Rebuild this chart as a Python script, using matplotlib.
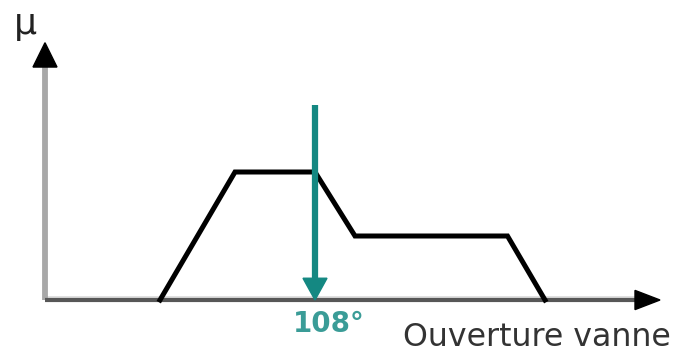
import matplotlib.pyplot as plt
from matplotlib.patches import Polygon

# membership function of the valve opening (degrees, mu)
opening = [46, 76, 108, 124, 185, 200]
mu = [0, 1, 1, 0.5, 0.5, 0]
crisp_value = 108
crisp_label = "108°"
x_label = "Ouverture vanne"
y_label = "µ"

plt.rcParams['font.family'] = ['DejaVu Sans']

fig = plt.figure(figsize=(6.88, 3.54), dpi=100)
ax = fig.add_axes([0, 0, 1, 1])
# 2.5 px per degree, 128 px per unit of mu
ax.set_xlim(-18, 257.2)
ax.set_ylim(-54 / 128, 300 / 128)
ax.axis('off')

teal = '#148882'

# axes
ax.plot([0, 0], [0, 1.84], color='#a8a8a8', lw=4.2, solid_capstyle='butt', zorder=2)
ax.add_patch(Polygon([[-4.8, 1.82], [4.8, 1.82], [0, 2.01]], closed=True,
                     color='black', zorder=3))
ax.plot([0, 237], [0, 0], color='#575757', lw=3.0, solid_capstyle='butt', zorder=2)
ax.plot([0, 237], [0.022, 0.022], color='#dddddd', lw=2.0, solid_capstyle='butt', zorder=1)
ax.add_patch(Polygon([[236, 0.075], [236, -0.075], [246, 0]], closed=True,
                     color='black', zorder=3))

# membership function
ax.plot(opening, mu, color='black', lw=3.6, solid_joinstyle='miter', zorder=4)

# crisp output
ax.plot([crisp_value, crisp_value], [1.52, 0.16], color=teal, lw=4.5,
        solid_capstyle='butt', zorder=5)
ax.add_patch(Polygon([[crisp_value - 4.8, 0.17], [crisp_value + 4.8, 0.17],
                      [crisp_value, 0.0]], closed=True, color=teal, zorder=5))
ax.text(crisp_value + 5.6, -0.075, crisp_label, color='#3a9c97', fontsize=20,
        fontweight='bold', ha='center', va='top')

ax.text(143.2, -0.412, x_label, color='#333333', fontsize=22.8, ha='left', va='bottom')
ax.text(-12.5, 2.29, y_label, color='#222222', fontsize=26, ha='left', va='top')

fig.savefig('out.png', dpi=100)
